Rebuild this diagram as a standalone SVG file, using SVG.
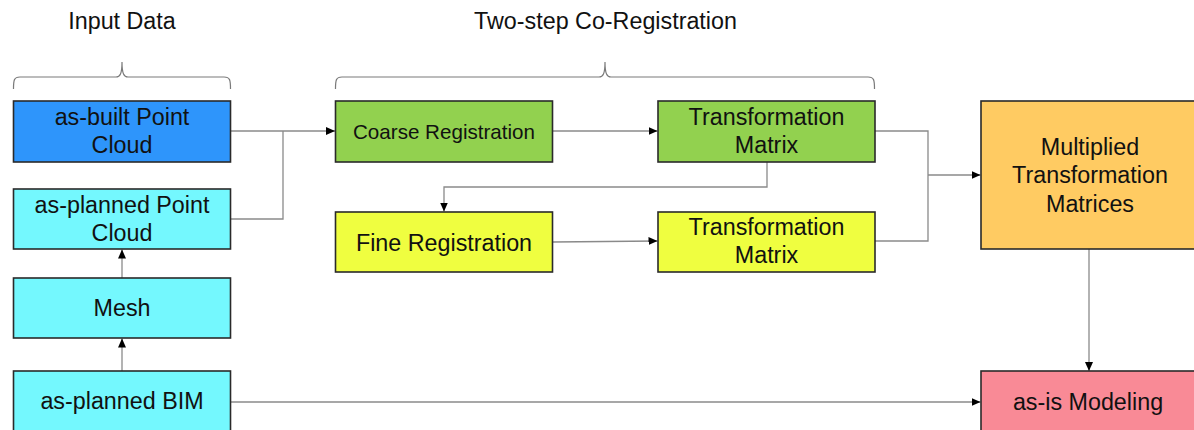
<svg xmlns="http://www.w3.org/2000/svg" width="1194" height="430" viewBox="0 0 1194 430">
<style>
  text { font-family: "Liberation Sans", Arial, sans-serif; font-size: 23.3px; fill: #111; text-anchor: middle; }
  .box { stroke: #2a2a2a; stroke-width: 1.6; }
  .conn { fill: none; stroke: #8a8a8a; stroke-width: 1.3; }
  .brace { fill: none; stroke: #7a7a7a; stroke-width: 1.2; }
  .blue { fill: #2e95fb; }
  .cyan { fill: #74f8fe; }
  .green { fill: #92d14f; }
  .yellow { fill: #effe40; }
  .orange { fill: #ffcb62; }
  .pink { fill: #f98a96; }
</style>
<defs>
  <marker id="arr" markerUnits="userSpaceOnUse" markerWidth="10" markerHeight="10" refX="9" refY="5" orient="auto">
    <path d="M0,1 L9,5 L0,9 z" fill="#000"/>
  </marker>
</defs>
<rect width="1194" height="430" fill="#fff"/>

<g id="headings">
  <text x="122" y="29">Input Data</text>
  <text x="605.5" y="29">Two-step Co-Registration</text>
  <path class="brace" d="M13.5,89 C13.5,80 14,77 20,77 L116,77 C120,77 122,74 122,62 C122,74 124,77 128,77 L224,77 C230,77 230.5,80 230.5,89"/>
  <path class="brace" d="M335.5,89 C335.5,80 336,77 342,77 L599,77 C603,77 605,74 605,62 C605,74 607,77 611,77 L868,77 C874,77 874.5,80 874.5,89"/>
</g>

<g id="connectors">
  <path class="conn" d="M230.5,131 L335,131" marker-end="url(#arr)"/>
  <path class="conn" d="M230.5,219 L283,219 L283,131"/>
  <path class="conn" d="M553,131 L657.5,131" marker-end="url(#arr)"/>
  <path class="conn" d="M767,162 L767,187 L444,187 L444,211.5" marker-end="url(#arr)"/>
  <path class="conn" d="M553,242 L657.5,241" marker-end="url(#arr)"/>
  <path class="conn" d="M875,131 L928,131 L928,241 L875,241"/>
  <path class="conn" d="M928,175 L980.5,175" marker-end="url(#arr)"/>
  <path class="conn" d="M122,278 L122,249.5" marker-end="url(#arr)"/>
  <path class="conn" d="M122,371 L122,338.5" marker-end="url(#arr)"/>
  <path class="conn" d="M230.5,402 L980.5,402" marker-end="url(#arr)"/>
  <path class="conn" d="M1089,249 L1089,371" marker-end="url(#arr)"/>
</g>

<g id="as-built-point-cloud">
  <rect class="box blue" x="13.5" y="101" width="217" height="61"/>
  <text x="122" y="125">as-built Point</text>
  <text x="122" y="153">Cloud</text>
</g>
<g id="as-planned-point-cloud">
  <rect class="box cyan" x="13.5" y="189" width="217" height="60"/>
  <text x="122" y="213">as-planned Point</text>
  <text x="122" y="241">Cloud</text>
</g>
<g id="mesh">
  <rect class="box cyan" x="13.5" y="278" width="217" height="60"/>
  <text x="122" y="316">Mesh</text>
</g>
<g id="as-planned-bim">
  <rect class="box cyan" x="13.5" y="371" width="217" height="62"/>
  <text x="122" y="409">as-planned BIM</text>
</g>
<g id="coarse-registration">
  <rect class="box green" x="335.5" y="101" width="217" height="61"/>
  <text x="444" y="139" style="font-size:20.6px">Coarse Registration</text>
</g>
<g id="transformation-matrix-1">
  <rect class="box green" x="658" y="101" width="217" height="61"/>
  <text x="766.5" y="125">Transformation</text>
  <text x="766.5" y="153">Matrix</text>
</g>
<g id="fine-registration">
  <rect class="box yellow" x="335.5" y="212" width="217" height="60"/>
  <text x="444" y="251">Fine Registration</text>
</g>
<g id="transformation-matrix-2">
  <rect class="box yellow" x="658" y="212" width="217" height="60"/>
  <text x="766.5" y="235">Transformation</text>
  <text x="766.5" y="263">Matrix</text>
</g>
<g id="multiplied-transformation-matrices">
  <rect class="box orange" x="981" y="101" width="220" height="148"/>
  <text x="1090" y="155">Multiplied</text>
  <text x="1090" y="183">Transformation</text>
  <text x="1090" y="212">Matrices</text>
</g>
<g id="as-is-modeling">
  <rect class="box pink" x="981" y="371" width="220" height="62"/>
  <text x="1088" y="410">as-is Modeling</text>
</g>
</svg>
